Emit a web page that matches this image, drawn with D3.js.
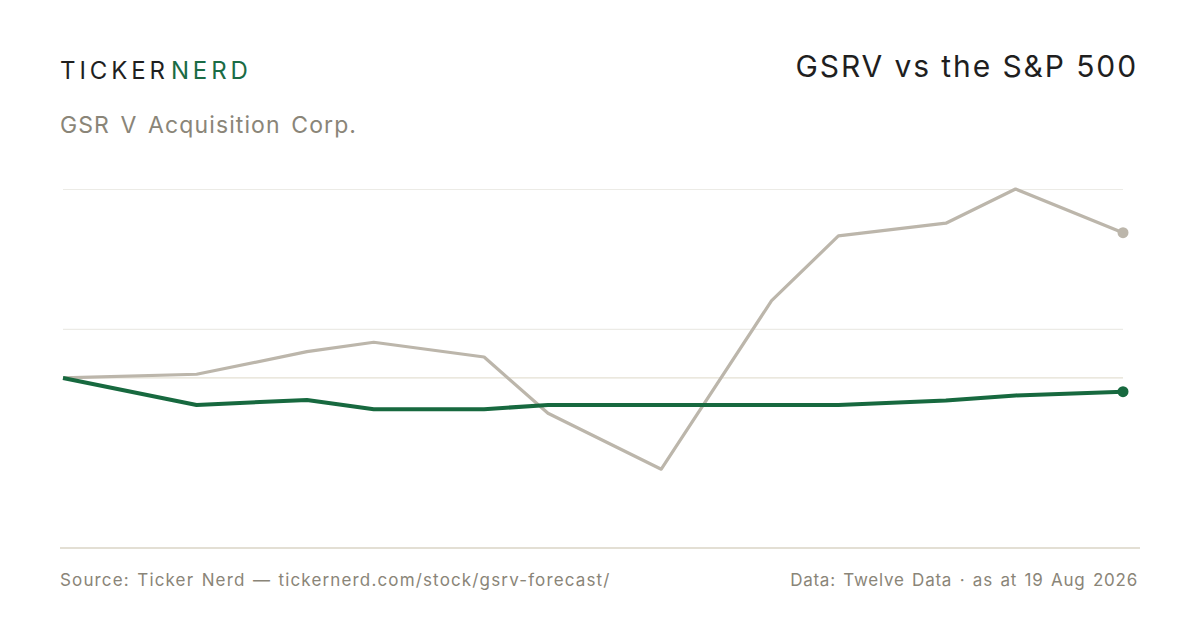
<!DOCTYPE html>
<html>
<head>
<meta charset="utf-8">
<script src="https://cdn.jsdelivr.net/npm/d3@7/dist/d3.min.js"></script>
<style>
  html, body { margin: 0; padding: 0; background: #ffffff; }
  svg { display: block; }
  text { font-family: Inter, "Noto Sans", sans-serif; }
</style>
</head>
<body>
<svg id="chart" width="1200" height="630"></svg>
<script>
// Dates of the observations
const dates = ["2025-08-19","2025-10-04","2025-11-11","2025-12-04","2026-01-11","2026-02-02",
               "2026-03-13","2026-04-20","2026-05-13","2026-06-19","2026-07-13","2026-08-19"];
// % change since start
const gsrvValues = [0, -2.86, -2.33, -3.31, -3.31, -2.86, -2.86, -2.86, -2.86, -2.38, -1.85, -1.45];
const spxValues  = [0, 0.39, 2.78, 3.78, 2.22, -3.74, -9.66, 8.18, 15.03, 16.38, 20.0, 15.38];
// gridline values
const gridTicks = [5.2, 20];
const yDomain = [-18, 20];

const W = 1200, H = 630;
const svg = d3.select("#chart");
const parse = d3.timeParse("%Y-%m-%d");
const xDates = dates.map(parse);

const x = d3.scaleTime().domain(d3.extent(xDates)).range([63, 1123]);
const y = d3.scaleLinear().domain(yDomain).range([548, 189]);

// Header
const brand = svg.append("text").attr("x", 60).attr("y", 79)
  .attr("font-size", 24).attr("letter-spacing", 3.9).attr("font-weight", 400);
brand.append("tspan").attr("fill", "#1f1f1f").text("TICKER");
brand.append("tspan").attr("fill", "#1a6b45").attr("dx", 2).text("NERD");

svg.append("text").attr("x", 60).attr("y", 133)
  .attr("font-size", 23).attr("letter-spacing", 1.1).attr("word-spacing", 3).attr("fill", "#8a8578").text("GSR V Acquisition Corp.");

svg.append("text").attr("x", 1138).attr("y", 77).attr("text-anchor", "end")
  .attr("font-size", 30).attr("letter-spacing", 1.9).attr("fill", "#1f1f1f").text("GSRV vs the S&P 500");

// Gridlines
const grid = d3.axisLeft(y).tickValues(gridTicks).tickSize(-(1123 - 63)).tickFormat("");
const gg = svg.append("g").attr("transform", "translate(63,0)").call(grid);
gg.select(".domain").remove();
gg.selectAll(".tick line").attr("stroke", "#ecebe6").attr("stroke-width", 1.2);

// Zero line
svg.append("line").attr("x1", 63).attr("x2", 1123).attr("y1", y(0)).attr("y2", y(0))
  .attr("stroke", "#e4e0d3").attr("stroke-width", 1.2);

// Bottom axis line
const xAxis = d3.axisBottom(x).tickValues([]).tickSizeOuter(0);
const xg = svg.append("g").attr("transform", `translate(0,${y(yDomain[0])})`).call(xAxis);
xg.select(".domain").attr("d", "M60,0H1140").attr("stroke", "#e3dfd4").attr("stroke-width", 2);

const line = d3.line().x((d, i) => x(xDates[i])).y(d => y(d));

svg.append("path").datum(spxValues).attr("d", line)
  .attr("fill", "none").attr("stroke", "#bcb6ab").attr("stroke-width", 3.2)
  .attr("stroke-linejoin", "round");
svg.append("path").datum(gsrvValues).attr("d", line)
  .attr("fill", "none").attr("stroke", "#17693f").attr("stroke-width", 4)
  .attr("stroke-linejoin", "round");

const last = dates.length - 1;
svg.append("circle").attr("cx", x(xDates[last])).attr("cy", y(spxValues[last])).attr("r", 5.5).attr("fill", "#bcb6ab");
svg.append("circle").attr("cx", x(xDates[last])).attr("cy", y(gsrvValues[last])).attr("r", 5.5).attr("fill", "#17693f");

// Footer
svg.append("text").attr("x", 60).attr("y", 586).attr("font-size", 17).attr("letter-spacing", 1.15).attr("word-spacing", 1.5).attr("fill", "#8a8578")
  .text("Source: Ticker Nerd — tickernerd.com/stock/gsrv-forecast/");
svg.append("text").attr("x", 1138).attr("y", 586).attr("text-anchor", "end").attr("font-size", 17).attr("letter-spacing", 0.75).attr("word-spacing", 2).attr("fill", "#8a8578")
  .text("Data: Twelve Data · as at 19 Aug 2026");
</script>
</body>
</html>
